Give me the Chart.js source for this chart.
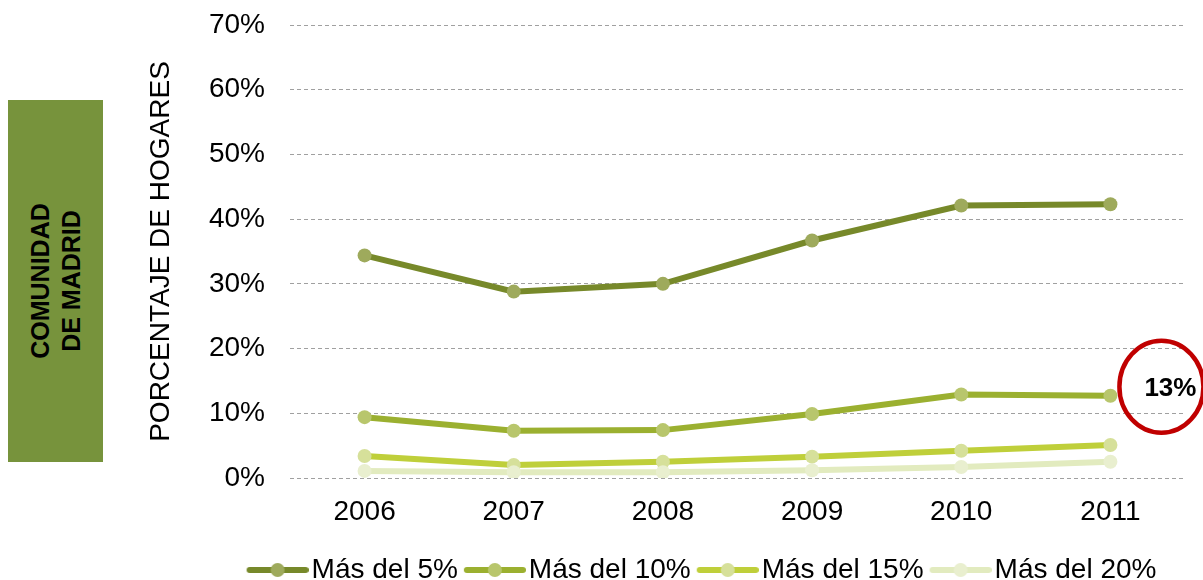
<!DOCTYPE html>
<html>
<head>
<meta charset="utf-8">
<script src="https://cdn.jsdelivr.net/npm/chart.js@4"></script>
<style>
  html, body { margin: 0; padding: 0; background: #fff; }
  #wrap { position: relative; width: 1203px; height: 580px; }
  #region {
    position: absolute; left: 8px; top: 100px; width: 95px; height: 362px;
    background: #77933c;
  }
  #region span {
    position: absolute; left: 50%; top: 50%;
    transform: translate(-50%, -50%) rotate(-90deg);
    font: bold 25px "Liberation Sans", Arial, sans-serif; line-height: 31px;
    text-align: center; white-space: nowrap; color: #000;
  }
  canvas { position: absolute; left: 0; top: 0; }
</style>
</head>
<body>
<div id="wrap">
  <div id="region"><span>COMUNIDAD<br>DE MADRID</span></div>
  <canvas id="c" width="1203" height="580"></canvas>
</div>
<script>
// ── Data ──
const years = ['2006', '2007', '2008', '2009', '2010', '2011'];
const mas5  = [34.4, 28.8, 30.0, 36.7, 42.1, 42.3];
const mas10 = [9.4, 7.3, 7.4, 9.9, 12.9, 12.7];
const mas15 = [3.4, 2.0, 2.5, 3.3, 4.2, 5.1];
const mas20 = [1.1, 0.9, 0.9, 1.2, 1.7, 2.5];
const seriesNames = ['Más del 5%', 'Más del 10%', 'Más del 15%', 'Más del 20%'];
const yTicks = [0, 10, 20, 30, 40, 50, 60, 70];
const calloutText = '13%';

const lineColors  = ['#77892a', '#9bb030', '#bfcf3a', '#e2ebbf'];
const pointColors = ['#9eaa5c', '#b8c66c', '#d6e09a', '#e9efcf'];
const FONT = '"Liberation Sans", Arial, sans-serif';

// legend marker: short line with a dot, drawn in the right part of a wider canvas
// so the text sits close to it
function legendMark(line, dot) {
    const cv = document.createElement('canvas');
    cv.width = 79; cv.height = 16;
    const g = cv.getContext('2d');
    const x0 = 17;
    g.strokeStyle = line; g.lineWidth = 6; g.lineCap = 'round';
    g.beginPath(); g.moveTo(x0 + 3, 8); g.lineTo(x0 + 59, 8); g.stroke();
    g.fillStyle = dot;
    g.beginPath(); g.arc(x0 + 31, 8, 7, 0, Math.PI * 2); g.fill();
    return cv;
}
const marks = lineColors.map((c, i) => legendMark(c, pointColors[i]));

const datasets = [mas5, mas10, mas15, mas20].map((vals, i) => ({
    label: seriesNames[i], data: vals,
    borderColor: lineColors[i], backgroundColor: pointColors[i],
    borderWidth: 6, pointRadius: 7, pointHoverRadius: 7,
    pointBackgroundColor: pointColors[i], pointBorderWidth: 0,
    tension: 0, fill: false,
})).reverse();

// red circle callout next to the last "Más del 10%" point
const callout = {
    id: 'callout',
    afterDraw(chart) {
        const { ctx, scales: { x, y } } = chart;
        const cx = x.getPixelForValue(years.length - 1) + 51;
        const cy = y.getPixelForValue(14.1);
        ctx.save();
        ctx.strokeStyle = '#c00000'; ctx.lineWidth = 4.5;
        ctx.beginPath(); ctx.ellipse(cx, cy, 42, 46, 0, 0, Math.PI * 2); ctx.stroke();
        ctx.fillStyle = '#000'; ctx.font = 'bold 26px ' + FONT;
        ctx.textAlign = 'center'; ctx.textBaseline = 'middle';
        ctx.fillText(calloutText, cx + 9, cy + 2);
        ctx.restore();
    }
};

// the reference legend sits lower and right of centre
const legendNudge = {
    id: 'legendNudge',
    afterLayout(chart) {
        const l = chart.legend;
        l.left += 36; l.right += 36;
        l.top += 14; l.bottom += 14;
    }
};

new Chart(document.getElementById('c'), {
    type: 'line',
    data: { labels: years, datasets },
    plugins: [callout, legendNudge],
    options: {
        responsive: false, animation: false,
        layout: { padding: { left: 140, right: 18, top: 25, bottom: 0 } },
        scales: {
            x: {
                offset: true,
                grid: { display: false, drawTicks: false }, border: { display: false },
                ticks: { color: '#000', font: { family: FONT, size: 28 }, padding: 17 },
                afterFit: s => { s.height = 64; },
            },
            y: {
                min: 0, max: 70,
                afterBuildTicks: s => { s.ticks = yTicks.map(v => ({ value: v })); },
                afterFit: s => { s.width = 150; },
                grid: { color: '#a0a0a0', lineWidth: 1, drawTicks: true, tickLength: 25, tickColor: 'rgba(0,0,0,0)' },
                border: { display: false, dash: [4, 3] },
                ticks: { color: '#000', font: { family: FONT, size: 28 }, padding: 0, callback: v => v + '%' },
                title: { display: true, text: 'PORCENTAJE DE HOGARES', color: '#000',
                         font: { family: FONT, size: 28 }, padding: { top: 4, bottom: 0 } },
            }
        },
        plugins: {
            legend: {
                position: 'bottom', reverse: true,
                labels: {
                    color: '#000', font: { family: FONT, size: 28 }, padding: 0,
                    usePointStyle: true, pointStyleWidth: 57, boxHeight: 14,
                    generateLabels: chart => Chart.defaults.plugins.legend.labels.generateLabels(chart)
                        .map(l => ({ ...l, pointStyle: marks[3 - l.datasetIndex] })),
                }
            },
            tooltip: { enabled: false }
        }
    }
});
</script>
</body>
</html>
